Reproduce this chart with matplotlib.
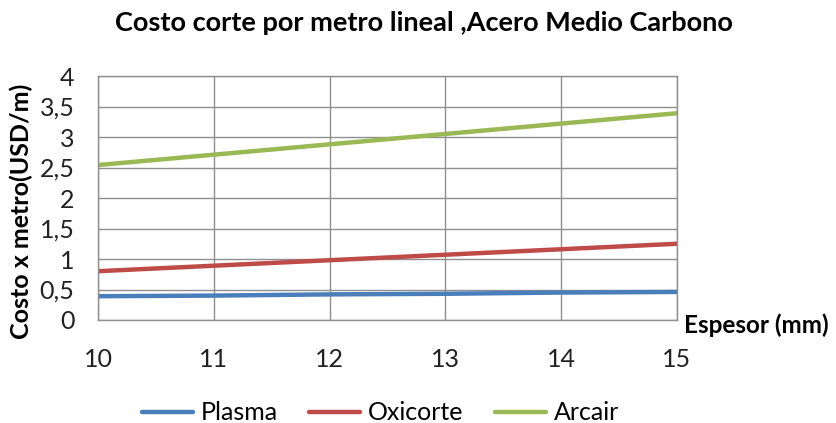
import matplotlib
matplotlib.use("Agg")
import matplotlib.pyplot as plt
from matplotlib.ticker import FuncFormatter, MultipleLocator

# Cost per linear metre, medium-carbon steel
espesor = [10, 11, 12, 13, 14, 15]
plasma = [0.39, 0.40, 0.42, 0.43, 0.45, 0.46]
oxicorte = [0.80, 0.89, 0.98, 1.07, 1.16, 1.25]
arcair = [2.54, 2.71, 2.88, 3.05, 3.22, 3.39]

series = [("Plasma", plasma, "#4A7EBB"),
          ("Oxicorte", oxicorte, "#BE4B48"),
          ("Arcair", arcair, "#98B954")]

plt.rcParams['font.family'] = ['Lato', 'DejaVu Sans']

fig = plt.figure(figsize=(8.36, 4.23), dpi=100)
ax = fig.add_axes([0.1172, 0.2435, 0.6926, 0.5768])

for name, vals, col in series:
    ax.plot(espesor, vals, color=col, lw=3.2, label=name, solid_capstyle='round')

ax.set_xlim(10, 15)
ax.set_ylim(0, 4)
ax.yaxis.set_major_locator(MultipleLocator(0.5))
ax.xaxis.set_major_locator(MultipleLocator(1))
ax.yaxis.set_major_formatter(FuncFormatter(lambda v, p: f"{v:g}".replace('.', ',')))
ax.grid(True, color='#8f8f8f', lw=1)
ax.set_axisbelow(True)
for s in ax.spines.values():
    s.set_color('#8f8f8f')
    s.set_linewidth(1)
ax.tick_params(axis='both', length=0, labelsize=18, colors='#222222')
ax.tick_params(axis='x', pad=20)
ax.tick_params(axis='y', pad=17)

fig.text(0.507, 0.945, "Costo corte por metro lineal ,Acero Medio Carbono",
         ha='center', va='center', fontsize=19.5, fontweight='bold')
fig.text(0.026, 0.5, "Costo x metro(USD/m)", rotation=90, ha='center',
         va='center', fontsize=18, fontweight='bold')
fig.text(0.818, 0.232, "Espesor (mm)", ha='left', va='center',
         fontsize=17.5, fontweight='bold')

leg = fig.legend(loc='center', bbox_to_anchor=(0.455, 0.024), ncol=3,
                 frameon=False, fontsize=18, handlelength=2.05,
                 columnspacing=1.25, handletextpad=0.3)

fig.savefig("out.png", dpi=100)
